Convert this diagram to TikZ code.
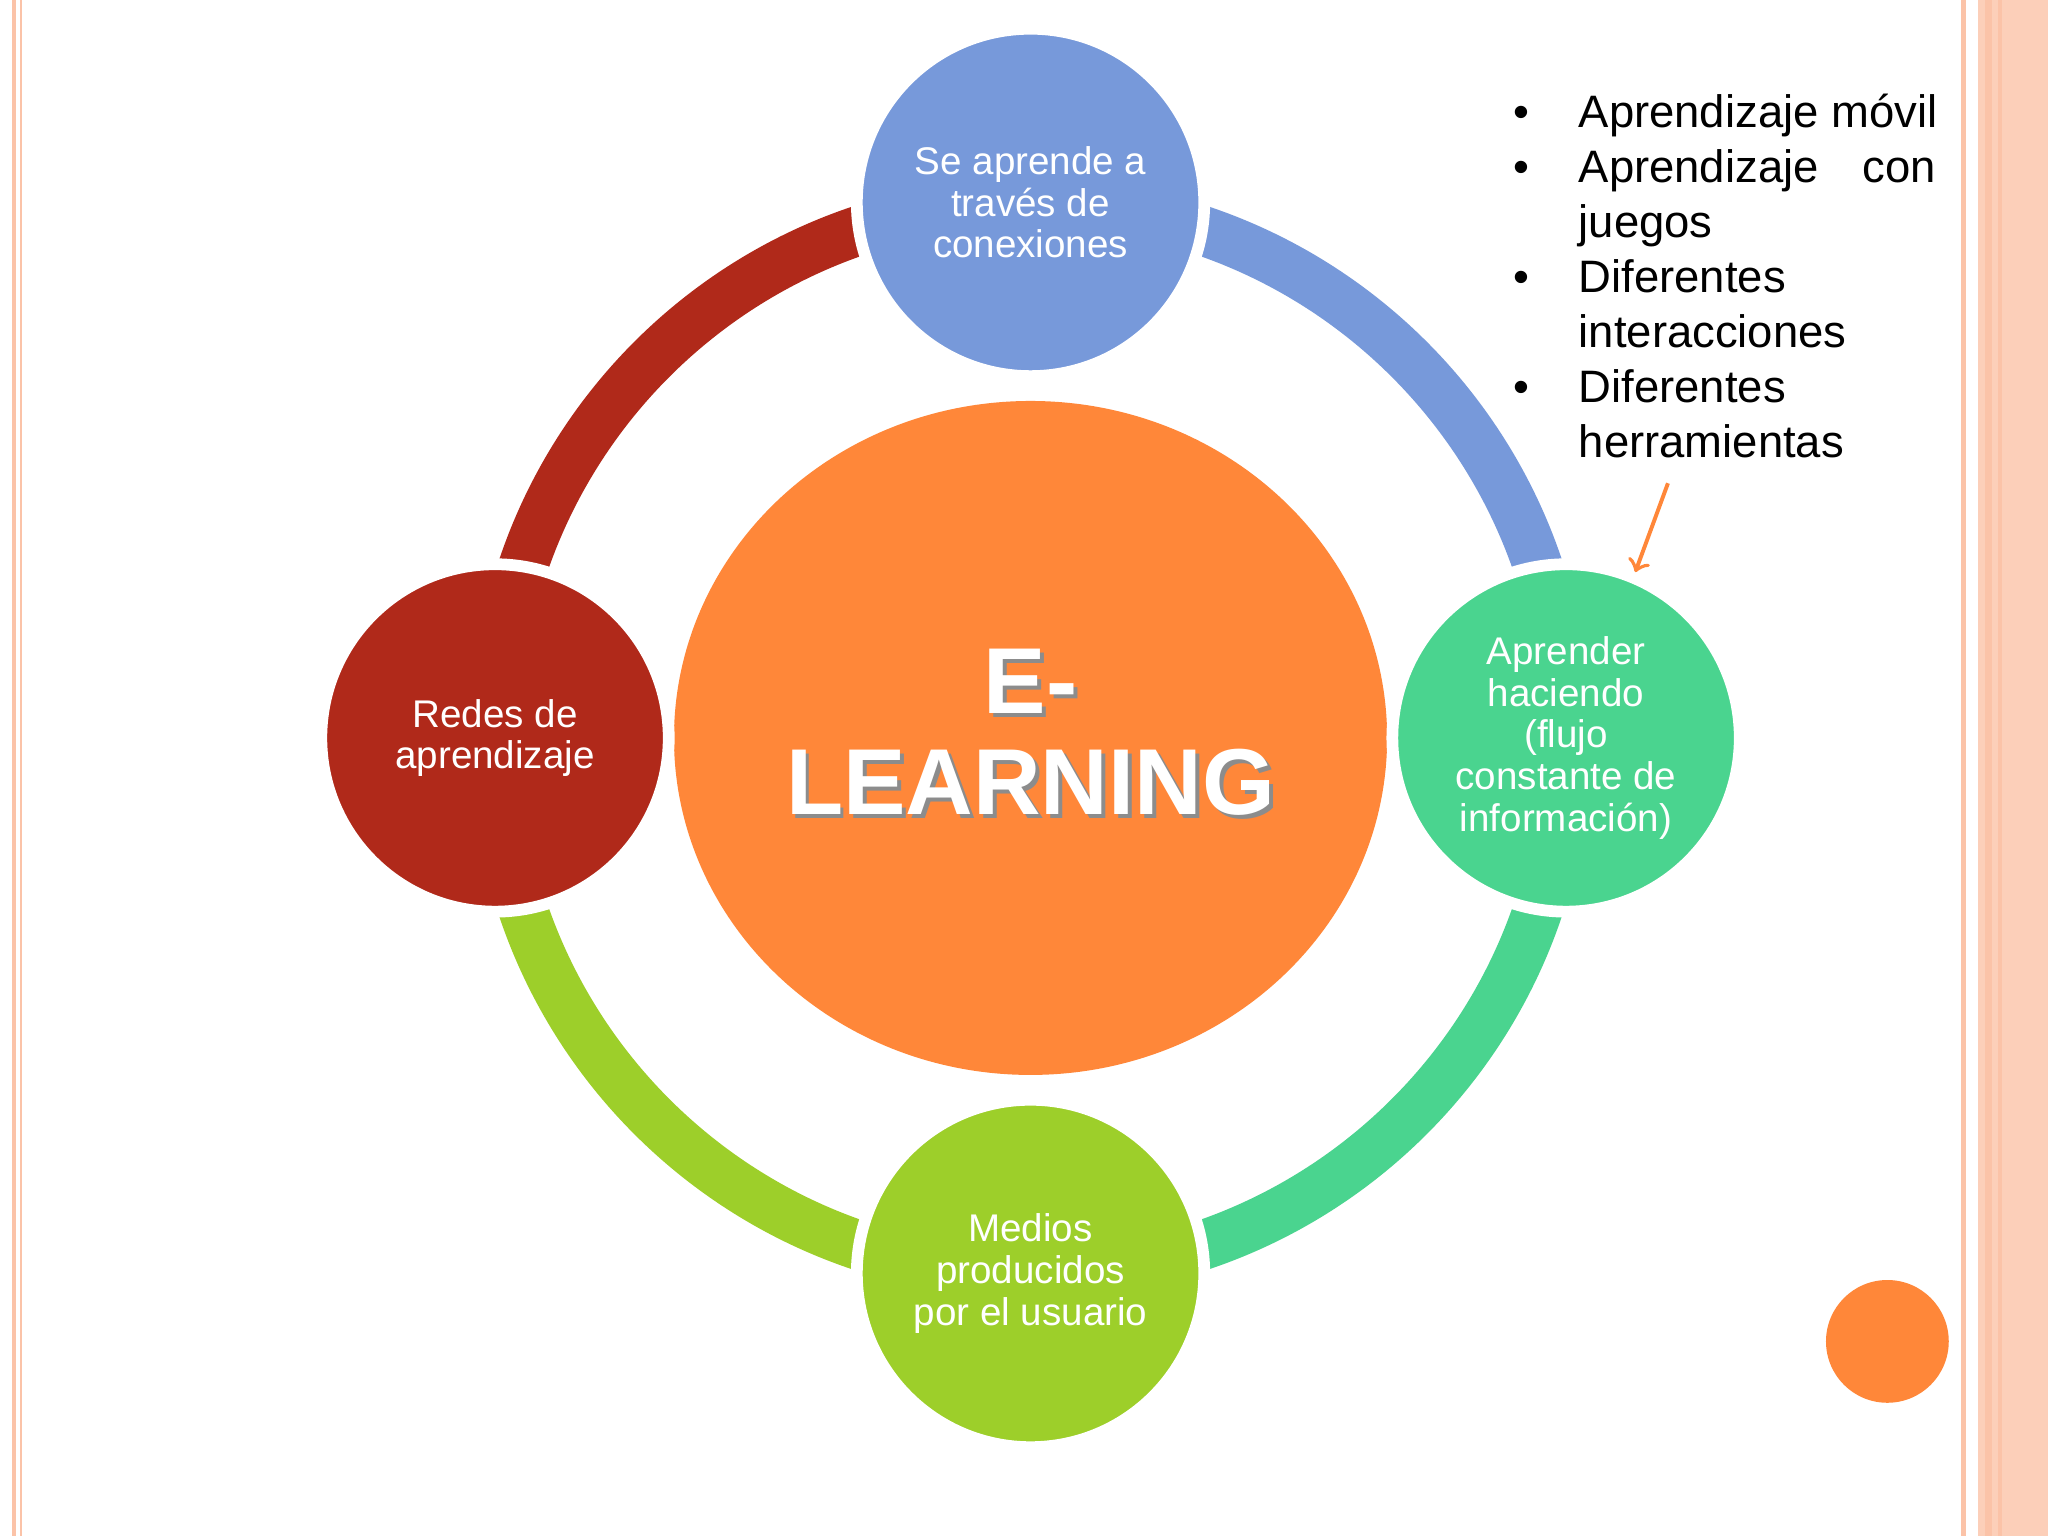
\documentclass[tikz,border=0pt]{standalone}
\usepackage{fontspec}
\setmainfont{Liberation Sans}
\usetikzlibrary{shapes.geometric}
\definecolor{cred}{HTML}{B0291A}
\definecolor{cblue}{HTML}{7799DA}
\definecolor{cgreen}{HTML}{4AD48F}
\definecolor{clime}{HTML}{9DCF2A}
\definecolor{corange}{HTML}{FF8739}
\definecolor{cstripe}{HTML}{FBC3A8}
\tikzset{
 ring/.style={line width=0.38cm},
 small/.style={circle,minimum size=2.66cm,draw=white,line width=0.9mm,text=white,align=center,font=\fontsize{8.4}{9.1}\selectfont,inner sep=0pt},
 bl/.style={anchor=base west,inner sep=0pt,font=\fontsize{9.9}{12}\selectfont},
}
\begin{document}
\begin{tikzpicture}[x=1cm,y=-1cm]
\useasboundingbox (0,0) rectangle (15.68,11.76);
\fill[white] (0,0) rectangle (15.68,11.76);
% borders
\fill[cstripe] (0.09,0) rectangle (0.12,11.76);
\fill[cstripe] (0.15,0) rectangle (0.17,11.76);
\fill[cstripe] (15.01,0) rectangle (15.05,11.76);
\fill[cstripe!80] (15.14,0) rectangle (15.68,11.76);
\fill[cstripe] (15.2,0) rectangle (15.25,11.76);
\fill[cstripe] (15.3,0) rectangle (15.33,11.76);
\coordinate (c) at (7.89,5.65);
\draw[ring,cblue] (7.89,1.55) arc[start angle=-90,end angle=0,radius=4.1];
\draw[ring,cred] (7.89,1.55) arc[start angle=-90,end angle=-180,radius=4.1];
\draw[ring,clime] (3.79,5.65) arc[start angle=180,end angle=90,radius=4.1];
\draw[ring,cgreen] (11.99,5.65) arc[start angle=0,end angle=90,radius=4.1];
\node[ellipse,fill=corange,minimum width=5.46cm,minimum height=5.16cm,inner sep=0pt] (center) at (c) {};
\node[text=black!45,align=center,font=\bfseries\fontsize{20.4}{22}\selectfont] at (7.92,5.64) {E-\\LEARNING};
\node[text=white,align=center,font=\bfseries\fontsize{20.4}{22}\selectfont] (title) at (7.89,5.61) {E-\\LEARNING};
\node[small,fill=cblue] (top) at (7.89,1.55) {Se aprende a\\través de\\conexiones};
\node[small,fill=cred] (left) at (3.79,5.65) {Redes de\\aprendizaje};
\node[small,fill=cgreen] (right) at (11.99,5.65) {Aprender\\haciendo\\(flujo\\constante de\\información)};
\node[small,fill=clime] (bottom) at (7.89,9.75) {Medios\\producidos\\por el usuario};
\node[bl] (b1) at (11.58,0.98) {\textbullet};
\node[bl] (l1) at (12.08,0.98) {Aprendizaje móvil};
\node[bl] (b2) at (11.58,1.40) {\textbullet};
\node[bl] (l2) at (12.08,1.40) {Aprendizaje};
\node[bl,anchor=base east] (l2b) at (14.83,1.40) {con};
\node[bl] (l3) at (12.08,1.82) {juegos};
\node[bl] (b4) at (11.58,2.24) {\textbullet};
\node[bl] (l4) at (12.08,2.24) {Diferentes};
\node[bl] (l5) at (12.08,2.66) {interacciones};
\node[bl] (b6) at (11.58,3.08) {\textbullet};
\node[bl] (l6) at (12.08,3.08) {Diferentes};
\node[bl] (l7) at (12.08,3.50) {herramientas};
\coordinate (a1) at (12.77,3.70);
\coordinate (a2) at (12.52,4.38);
\draw[corange,line width=0.3mm,->] (a1) -- (a2);
\node[circle,fill=corange,minimum size=0.94cm] (dot) at (14.45,10.27) {};
\end{tikzpicture}
\end{document}
